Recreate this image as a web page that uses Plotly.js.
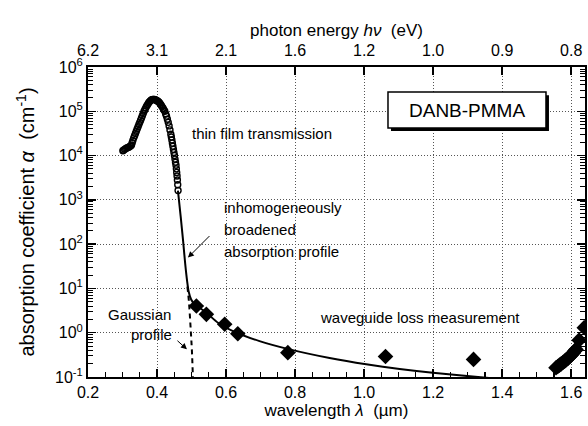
<!DOCTYPE html>
<html>
<head>
<meta charset="utf-8">
<script src="https://cdn.plot.ly/plotly-3.0.1.min.js"></script>
<style>html,body{margin:0;padding:0;background:#fff;}#chart{width:588px;height:426px;}</style>
</head>
<body>
<div id="chart"></div>
<script>
// thin film transmission (open circles): wavelength (µm) and log10 of absorption coefficient (cm^-1)
var filmLambda = [0.301,0.303,0.306,0.309,0.312,0.315,0.318,0.321,0.324,0.326,0.328,0.330,0.3325,0.335,0.3375,0.340,0.3425,0.345,0.3475,0.350,0.3525,0.355,0.3575,0.360,0.3625,0.365,0.3675,0.370,0.3725,0.375,0.3775,0.380,0.3825,0.385,0.3875,0.390,0.3925,0.395,0.3975,0.400,0.4025,0.405,0.4075,0.410,0.4125,0.415,0.4175,0.420,0.4225,0.425,0.4275,0.430,0.4325,0.435,0.4375,0.440,0.4415,0.443,0.4445,0.446,0.4475,0.449,0.4505,0.452,0.4535,0.455,0.456,0.457,0.458,0.459,0.460,0.461];
var filmLogAlpha = [4.11,4.12,4.14,4.155,4.17,4.18,4.19,4.205,4.22,4.24,4.29,4.34,4.40,4.45,4.50,4.55,4.60,4.65,4.70,4.75,4.80,4.85,4.90,4.95,5.00,5.04,5.08,5.12,5.15,5.18,5.21,5.23,5.25,5.26,5.27,5.27,5.27,5.26,5.25,5.24,5.225,5.21,5.19,5.16,5.13,5.10,5.07,5.03,5.00,4.94,4.89,4.82,4.75,4.67,4.58,4.48,4.42,4.35,4.28,4.21,4.14,4.07,4.00,3.92,3.85,3.78,3.70,3.62,3.54,3.45,3.34,3.21];
var filmAlpha = filmLogAlpha.map(function (v) { return Math.pow(10, v); });

// inhomogeneously broadened absorption profile (solid line)
var fitLambda = [0.4606,0.4685,0.4757,0.4815,0.4873,0.4916,0.4989,0.509,0.5235,0.543,0.5765,0.630,0.697,0.784,0.900,1.006,1.103,1.199,1.354,1.40];
var fitAlpha = [1620,425,115,36.7,14.4,8.55,5.64,4.40,3.67,2.84,1.68,1.0,0.646,0.42,0.268,0.193,0.151,0.1245,0.096,0.09];

// Gaussian profile (dashed)
var gaussLambda = [0.488,0.4925,0.4955,0.4985,0.501,0.504];
var gaussAlpha = [11,5.0,2.2,0.9,0.4,0.095];

// waveguide loss measurement (diamonds)
var waveLambda = [0.514,0.543,0.596,0.634,0.779,1.062,1.317,1.556,1.561,1.566,1.571,1.576,1.581,1.586,1.591,1.596,1.601,1.606,1.611,1.614,1.623,1.638];
var waveAlpha = [4.0,2.6,1.55,0.95,0.355,0.29,0.25,0.162,0.172,0.185,0.198,0.213,0.228,0.245,0.265,0.29,0.32,0.35,0.39,0.42,0.68,1.3];

// axes ticks
var lambdaTicks = [0.2,0.4,0.6,0.8,1.0,1.2,1.4,1.6];
var lambdaLabels = ['0.2','0.4','0.6','0.8','1.0','1.2','1.4','1.6'];
var energyLabels = ['6.2','3.1','2.1','1.6','1.2','1.0','0.9','0.8'];
var alphaTicks = [0.1,1,10,100,1000,10000,100000,1000000];
var alphaLabels = ['10<sup>-1</sup>','10<sup>0</sup>','10<sup>1</sup>','10<sup>2</sup>','10<sup>3</sup>','10<sup>4</sup>','10<sup>5</sup>','10<sup>6</sup>'];

var minorAlpha = [];
for (var d = -1; d < 6; d++) { for (var m = 2; m <= 9; m++) { minorAlpha.push(m * Math.pow(10, d)); } }

var FONT = 'Liberation Sans, Arial, Helvetica, sans-serif';
var GRID = '#555';

var traces = [
  {x: fitLambda, y: fitAlpha, mode: 'lines', line: {color: '#000', width: 2, shape: 'spline', smoothing: 0.6}, hoverinfo: 'skip'},
  {x: gaussLambda, y: gaussAlpha, mode: 'lines', line: {color: '#000', width: 2, dash: '5px,4px', shape: 'spline'}, hoverinfo: 'skip'},
  {x: filmLambda, y: filmAlpha, mode: 'markers', marker: {symbol: 'circle-open', size: 6, color: '#000', line: {width: 1.4, color: '#000'}}},
  {x: waveLambda, y: waveAlpha, mode: 'markers', marker: {symbol: 'diamond', size: 12, color: '#000'}},
  {x: lambdaTicks, y: alphaTicks, xaxis: 'x2', mode: 'markers', marker: {opacity: 0}, hoverinfo: 'skip'}
];

var layout = {
  width: 588, height: 426,
  margin: {l: 88, r: 3, t: 67, b: 49},
  paper_bgcolor: '#fff', plot_bgcolor: '#fff',
  showlegend: false,
  font: {family: FONT, size: 16, color: '#000'},
  xaxis: {
    range: [0.2, 1.64], tickmode: 'array', tickvals: lambdaTicks, ticktext: lambdaLabels,
    ticks: 'inside', ticklen: 8, tickwidth: 1.5, tickcolor: '#000',
    showline: true, linecolor: '#000', linewidth: 2,
    showgrid: true, gridcolor: GRID, griddash: '1px,2px', gridwidth: 1,
    zeroline: false,
    minor: {dtick: 0.05, tick0: 0.2, ticks: 'inside', ticklen: 5, tickcolor: '#000', tickwidth: 1.2, showgrid: false},
    tickfont: {size: 16},
    title: {text: 'wavelength <i>λ</i>  (µm)', font: {size: 17}, standoff: 4}
  },
  xaxis2: {
    overlaying: 'x', side: 'top', range: [0.2, 1.64], tickmode: 'array', tickvals: lambdaTicks, ticktext: energyLabels,
    ticks: 'inside', ticklen: 8, tickwidth: 1.5, tickcolor: '#000', ticklabelstandoff: 3,
    showline: true, linecolor: '#000', linewidth: 2, showgrid: false, zeroline: false,
    tickfont: {size: 16},
    title: {text: 'photon energy <i>hν</i>  (eV)', font: {size: 17}, standoff: 1}
  },
  yaxis: {
    type: 'log', range: [-1, 6], tickmode: 'array', tickvals: alphaTicks, ticktext: alphaLabels,
    ticks: 'inside', ticklen: 8, tickwidth: 1.5, tickcolor: '#000',
    showline: true, linecolor: '#000', linewidth: 2, mirror: 'ticks',
    showgrid: true, gridcolor: GRID, griddash: '1px,2px', gridwidth: 1,
    zeroline: false,
    minor: {tickmode: 'array', tickvals: minorAlpha, ticks: 'inside', ticklen: 5, tickcolor: '#000', tickwidth: 1, showgrid: false},
    tickfont: {size: 16},
    title: {text: 'absorption coefficient <i>α</i>  (cm<sup>-1</sup>)', font: {size: 20}, standoff: 15}
  },
  shapes: [
    {type: 'rect', xref: 'paper', yref: 'paper', x0: 0.6096, x1: 0.9275, y0: 0.7933, y1: 0.909, fillcolor: '#000', line: {width: 0}},
    {type: 'rect', xref: 'paper', yref: 'paper', x0: 0.6036, x1: 0.9215, y0: 0.803, y1: 0.919, fillcolor: '#fff', line: {color: '#000', width: 1.5}}
  ],
  annotations: [
    {xref: 'paper', yref: 'paper', x: 0.7626, y: 0.861, text: 'DANB-PMMA', showarrow: false, font: {size: 19}, xanchor: 'center', yanchor: 'middle'},
    {x: 0.495, y: 4.50, text: 'thin film transmission', showarrow: false, xanchor: 'left', yanchor: 'middle', font: {size: 15}},
    {x: 0.589, y: 6 - (206.5 - 66.5) / 44.2, text: 'inhomogeneously', showarrow: false, xanchor: 'left', yanchor: 'middle', font: {size: 15}},
    {x: 0.589, y: 6 - (228.5 - 66.5) / 44.2, text: 'broadened', showarrow: false, xanchor: 'left', yanchor: 'middle', font: {size: 15}},
    {x: 0.589, y: 6 - (250.5 - 66.5) / 44.2, text: 'absorption profile', showarrow: false, xanchor: 'left', yanchor: 'middle', font: {size: 15}},
    {x: 0.4896, y: 1.697, text: '', showarrow: true, arrowhead: 2, arrowsize: 1.2, arrowwidth: 1, arrowcolor: '#000', ax: 23, ay: -23},
    {x: 0.35, y: 0.416, text: 'Gaussian', showarrow: false, xanchor: 'center', yanchor: 'middle', font: {size: 15}},
    {x: 0.3836, y: -0.036, text: 'profile', showarrow: false, xanchor: 'center', yanchor: 'middle', font: {size: 15}},
    {x: 0.4867, y: -0.376, text: '', showarrow: true, arrowhead: 2, arrowsize: 1.2, arrowwidth: 1, arrowcolor: '#000', ax: -11, ay: -10},
    {x: 0.866, y: 0.339, text: 'waveguide loss measurement', showarrow: false, xanchor: 'left', yanchor: 'middle', font: {size: 15}}
  ]
};

Plotly.newPlot('chart', traces, layout, {staticPlot: true, displayModeBar: false});
</script>
</body>
</html>
